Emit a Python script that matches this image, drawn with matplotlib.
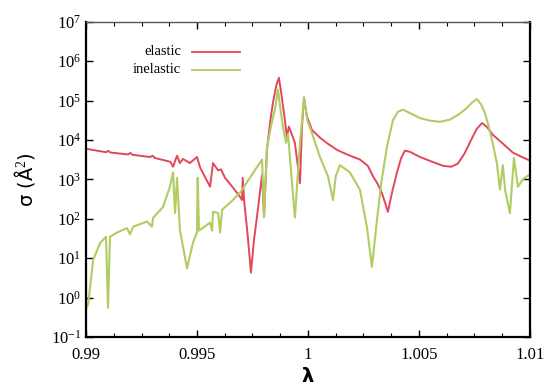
import numpy as np
import matplotlib
matplotlib.use("Agg")
import matplotlib.pyplot as plt
from matplotlib.ticker import FixedLocator, MultipleLocator, LogLocator, NullLocator

plt.rcParams['font.family'] = ['Liberation Serif', 'DejaVu Serif']
plt.rcParams['mathtext.fontset'] = 'custom'
plt.rcParams['mathtext.rm'] = 'Liberation Serif'
plt.rcParams['mathtext.it'] = 'Liberation Serif:italic'

# ---- data (lambda, cross section in A^2) ----
lam_el = [0.99000, 0.99090, 0.99100, 0.99110, 0.99190, 0.99200, 0.99210, 0.99290,
          0.99300, 0.99310, 0.99380, 0.99392, 0.99410, 0.99423, 0.99437, 0.99468,
          0.99500, 0.99514, 0.99559, 0.99572, 0.99595, 0.99608, 0.99626, 0.99662,
          0.99694, 0.99703, 0.99706, 0.99712, 0.99728, 0.99743, 0.99757, 0.99770,
          0.99793, 0.99802, 0.99815, 0.99830, 0.99842, 0.99858, 0.99869, 0.99880,
          0.99896, 0.99905, 0.99914, 0.99941, 0.99964, 0.99973, 0.99982, 0.99995,
          1.00018, 1.00054, 1.00090, 1.00131, 1.00180, 1.00234, 1.00270, 1.00293,
          1.00315, 1.00333, 1.00348, 1.00360, 1.00380, 1.00401, 1.00420, 1.00437,
          1.00460, 1.00505, 1.00560, 1.00610, 1.00645, 1.00675, 1.00705, 1.00735,
          1.00760, 1.00784, 1.00808, 1.00833, 1.00874, 1.00923, 1.00960, 1.01000]
sig_el = [6000, 4900, 5300, 4800, 4300, 4700, 4200, 3700,
          4000, 3500, 2800, 2100, 4000, 2600, 3300, 2600,
          3700, 2000, 650, 2600, 1700, 1800, 1100, 620,
          360, 300, 1100, 300, 40, 4.3, 30, 110,
          1300, 110, 5600, 30000, 87000, 250000, 380000, 150000,
          32000, 12000, 22000, 8500, 800, 22000, 120000, 40000,
          18000, 11500, 8000, 5600, 4200, 3200, 2200, 1200,
          750, 450, 250, 150, 500, 1500, 3500, 5400,
          5000, 3700, 2800, 2200, 2100, 2500, 4500, 10000,
          19000, 27000, 21000, 13500, 8500, 4800, 3800, 3000]

lam_in = [0.99000, 0.99010, 0.99032, 0.99063, 0.99090, 0.99099, 0.99108, 0.99140,
          0.99185, 0.99198, 0.99212, 0.99275, 0.99297, 0.99302, 0.99347, 0.99378,
          0.99392, 0.99401, 0.99410, 0.99423, 0.99455, 0.99482, 0.99500, 0.99503,
          0.99509, 0.99559, 0.99568, 0.99572, 0.99595, 0.99604, 0.99613, 0.99662,
          0.99694, 0.99793, 0.99802, 0.99815, 0.99835, 0.99851, 0.99865, 0.99876,
          0.99887, 0.99901, 0.99910, 0.99941, 0.99964, 0.99982, 0.99998, 1.00018,
          1.00054, 1.00090, 1.00113, 1.00125, 1.00144, 1.00189, 1.00234, 1.00266,
          1.00288, 1.00311, 1.00330, 1.00356, 1.00383, 1.00405, 1.00428, 1.00460,
          1.00505, 1.00550, 1.00595, 1.00640, 1.00680, 1.00716, 1.00740, 1.00761,
          1.00780, 1.00797, 1.00812, 1.00829, 1.00851, 1.00865, 1.00878, 1.00889,
          1.00910, 1.00928, 1.00946, 1.00968, 1.00986, 1.01000]
sig_in = [0.5, 0.7, 9, 24, 35, 0.55, 35, 45,
          58, 40, 63, 85, 63, 105, 200, 650,
          1500, 140, 1100, 52, 5.5, 25, 45, 1100,
          50, 80, 50, 150, 140, 45, 170, 300,
          460, 3200, 110, 6300, 25000, 59000, 190000, 60000,
          22000, 8500, 14000, 107, 8500, 115000, 30000, 15000,
          3700, 1200, 300, 1200, 2300, 1500, 550, 60,
          6, 94, 800, 6800, 32000, 52000, 59000, 48000,
          36000, 31000, 29000, 33000, 45000, 65000, 90000, 110000,
          80000, 49000, 25000, 10000, 2600, 550, 2300, 500,
          140, 3500, 650, 1000, 1200, 1300]

xticks = [0.99, 0.995, 1.0, 1.005, 1.01]
xticklabels = ['0.99', '0.995', '1', '1.005', '1.01']
legend_labels = ['elastic', 'inelastic']

red = '#e2475a'
green = '#b0cc62'

fig = plt.figure(figsize=(5.48, 3.90), dpi=100)
ax = fig.add_axes([0.157, 0.136, 0.810, 0.808])

ax.plot(lam_el, sig_el, color=red, lw=1.4)
ax.plot(lam_in, sig_in, color=green, lw=1.5)

ax.set_yscale('log')
ax.set_xlim(0.99, 1.01)
ax.set_ylim(1e-1, 1e7)
ax.xaxis.set_major_locator(FixedLocator(xticks))
ax.set_xticklabels(xticklabels)
ax.xaxis.set_minor_locator(MultipleLocator(0.00125))
ax.yaxis.set_major_locator(LogLocator(base=10, numticks=20))
ax.yaxis.set_minor_locator(NullLocator())

ax.tick_params(which='both', direction='in', top=True, right=True, labelsize=12)
ax.tick_params(which='major', length=5, width=1)
ax.tick_params(which='minor', length=3, width=0.8)
ax.tick_params(axis='x', pad=7)
for s in ['left', 'bottom', 'right']:
    ax.spines[s].set_linewidth(1.6)
ax.spines['top'].set_linewidth(1.0)
ax.spines['top'].set_color('#555555')

# gnuplot-style key: right-aligned text followed by sample line
ky = [0.905, 0.848]
for lab, c, y in zip(legend_labels, [red, green], ky):
    ax.text(0.214, y, lab, transform=ax.transAxes, ha='right', va='center', fontsize=10.5)
    ax.plot([0.239, 0.347], [y, y], transform=ax.transAxes, color=c, lw=1.3)

ax.set_ylabel('σ (Å$^2$)', fontsize=14, family=['DejaVu Sans'], labelpad=10)
ax.set_xlabel('λ', fontsize=14, fontweight='bold', family=['DejaVu Sans'], labelpad=3)

fig.savefig('out.png', dpi=100)
